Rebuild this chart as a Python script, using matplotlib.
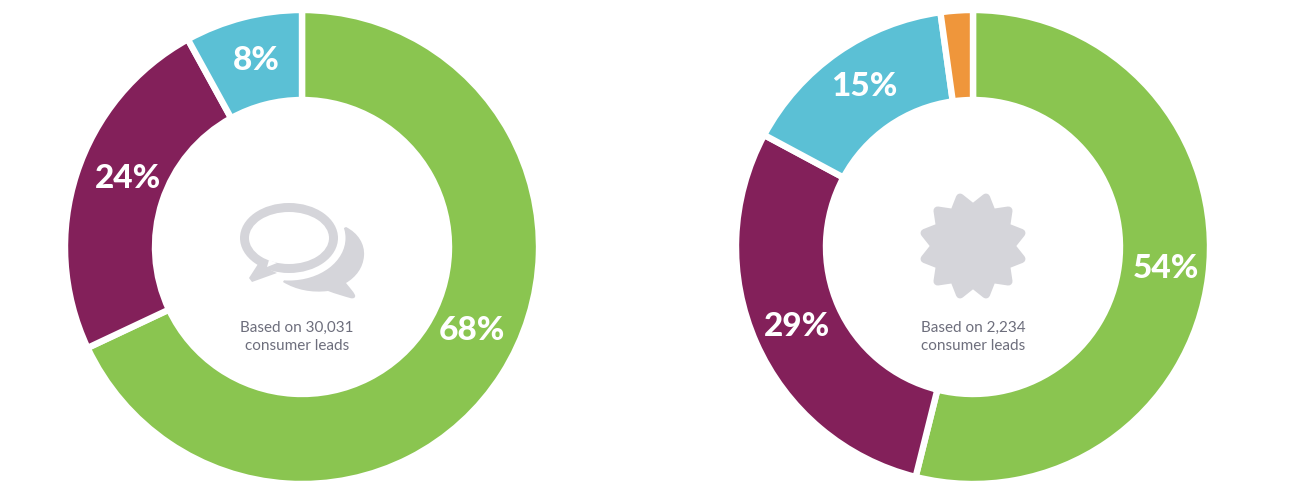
import numpy as np
import matplotlib
matplotlib.use("Agg")
import matplotlib.pyplot as plt
from matplotlib.patches import Ellipse, Polygon, PathPatch
from matplotlib.path import Path

W, H = 1312, 496
left_values = [68, 24, 8]
left_labels = ["68%", "24%", "8%"]
left_colors = ["#8AC550", "#83205A", "#5BC0D5"]
right_values = [54, 29, 15, 2.2]
right_labels = ["54%", "29%", "15%", ""]
right_colors = ["#8AC550", "#83205A", "#5BC0D5", "#EF963B"]
left_caption = "Based on 30,031\nconsumer leads"
right_caption = "Based on 2,234\nconsumer leads"

plt.rcParams["font.family"] = ["Lato", "DejaVu Sans"]
fig = plt.figure(figsize=(W/100, H/100), dpi=100)
ax = fig.add_axes([0, 0, 1, 1])
ax.set_xlim(0, W); ax.set_ylim(H, 0); ax.axis("off")
ax.set_zorder(5)

def donut(cx, cy, values, labels, colors, label_pos):
    R = 237
    a = fig.add_axes([(cx-R)/W, 1-(cy+R)/H, 2*R/W, 2*R/H])
    a.pie(values, colors=colors, startangle=90, counterclock=False, radius=1.0,
          wedgeprops=dict(width=90/R, edgecolor="white", linewidth=4.6))
    a.set_xlim(-1, 1); a.set_ylim(-1, 1); a.set_aspect("equal"); a.axis("off")
    for t, (x, y) in zip(labels, label_pos):
        if t:
            ax.text(x, y, t, color="white", fontsize=24, fontweight="black",
                    ha="center", va="center", zorder=10)

donut(302, 247, left_values, left_labels, left_colors, [(472, 330), (128, 178), (256, 61)])
donut(973, 247, right_values, right_labels, right_colors, [(1166, 269), (797, 327), (864, 87)])

grey = "#D5D5DA"
ax.text(297, 337, left_caption, ha="center", va="center", fontsize=11, color="#6D6E7C", linespacing=1.3)
ax.text(973.5, 337, right_caption, ha="center", va="center", fontsize=11, color="#6D6E7C", linespacing=1.3)

# speech bubbles: back bubble
M, C, L, Z = Path.MOVETO, Path.CURVE4, Path.LINETO, Path.CLOSEPOLY
back = Path([(346, 227), (358, 233), (365, 244), (364, 256),
             (363, 268), (356, 277), (346, 283),
             (350, 288), (353, 291), (355, 295),
             (356, 298), (353, 299), (350, 298),
             (343, 296), (336, 294), (328, 291),
             (312, 293), (296, 290), (283, 282),
             (300, 250), (346, 227), (346, 227), (346, 227)],
            [M, C, C, C, C, C, C, C, C, C, C, C, C, C, C, C, C, C, C, L, L, L, Z])
ax.add_patch(PathPatch(back, fc=grey, ec="none"))
ax.add_patch(Ellipse((289, 238), 113, 85, fc="white", ec="none"))
# front bubble
ax.add_patch(Ellipse((289, 238), 98, 70, fc=grey, ec="none"))
ax.add_patch(Polygon([(258, 264), (249, 278), (252, 282), (277, 273)], closed=True, fc=grey, ec="none"))
ax.add_patch(Ellipse((289, 238), 80, 52, fc="white", ec="none"))
ax.add_patch(Polygon([(269, 260), (267, 267), (277, 263)], closed=True, fc="white", ec="none"))

# seal with twelve rounded points
n_points = 12
tip_ang = np.deg2rad(15 + 30*np.arange(n_points))
val_ang = np.deg2rad(30*np.arange(n_points))
verts = []
for v, t in zip(val_ang, tip_ang):
    verts.append((973 + 38*np.sin(v), 246 - 38*np.cos(v)))
    verts.append((973 + 50*np.sin(t), 246 - 50*np.cos(t)))
ax.add_patch(Polygon(verts, closed=True, fc=grey, ec=grey, lw=6, joinstyle="round"))

fig.savefig("out.png", dpi=100, facecolor="white")
